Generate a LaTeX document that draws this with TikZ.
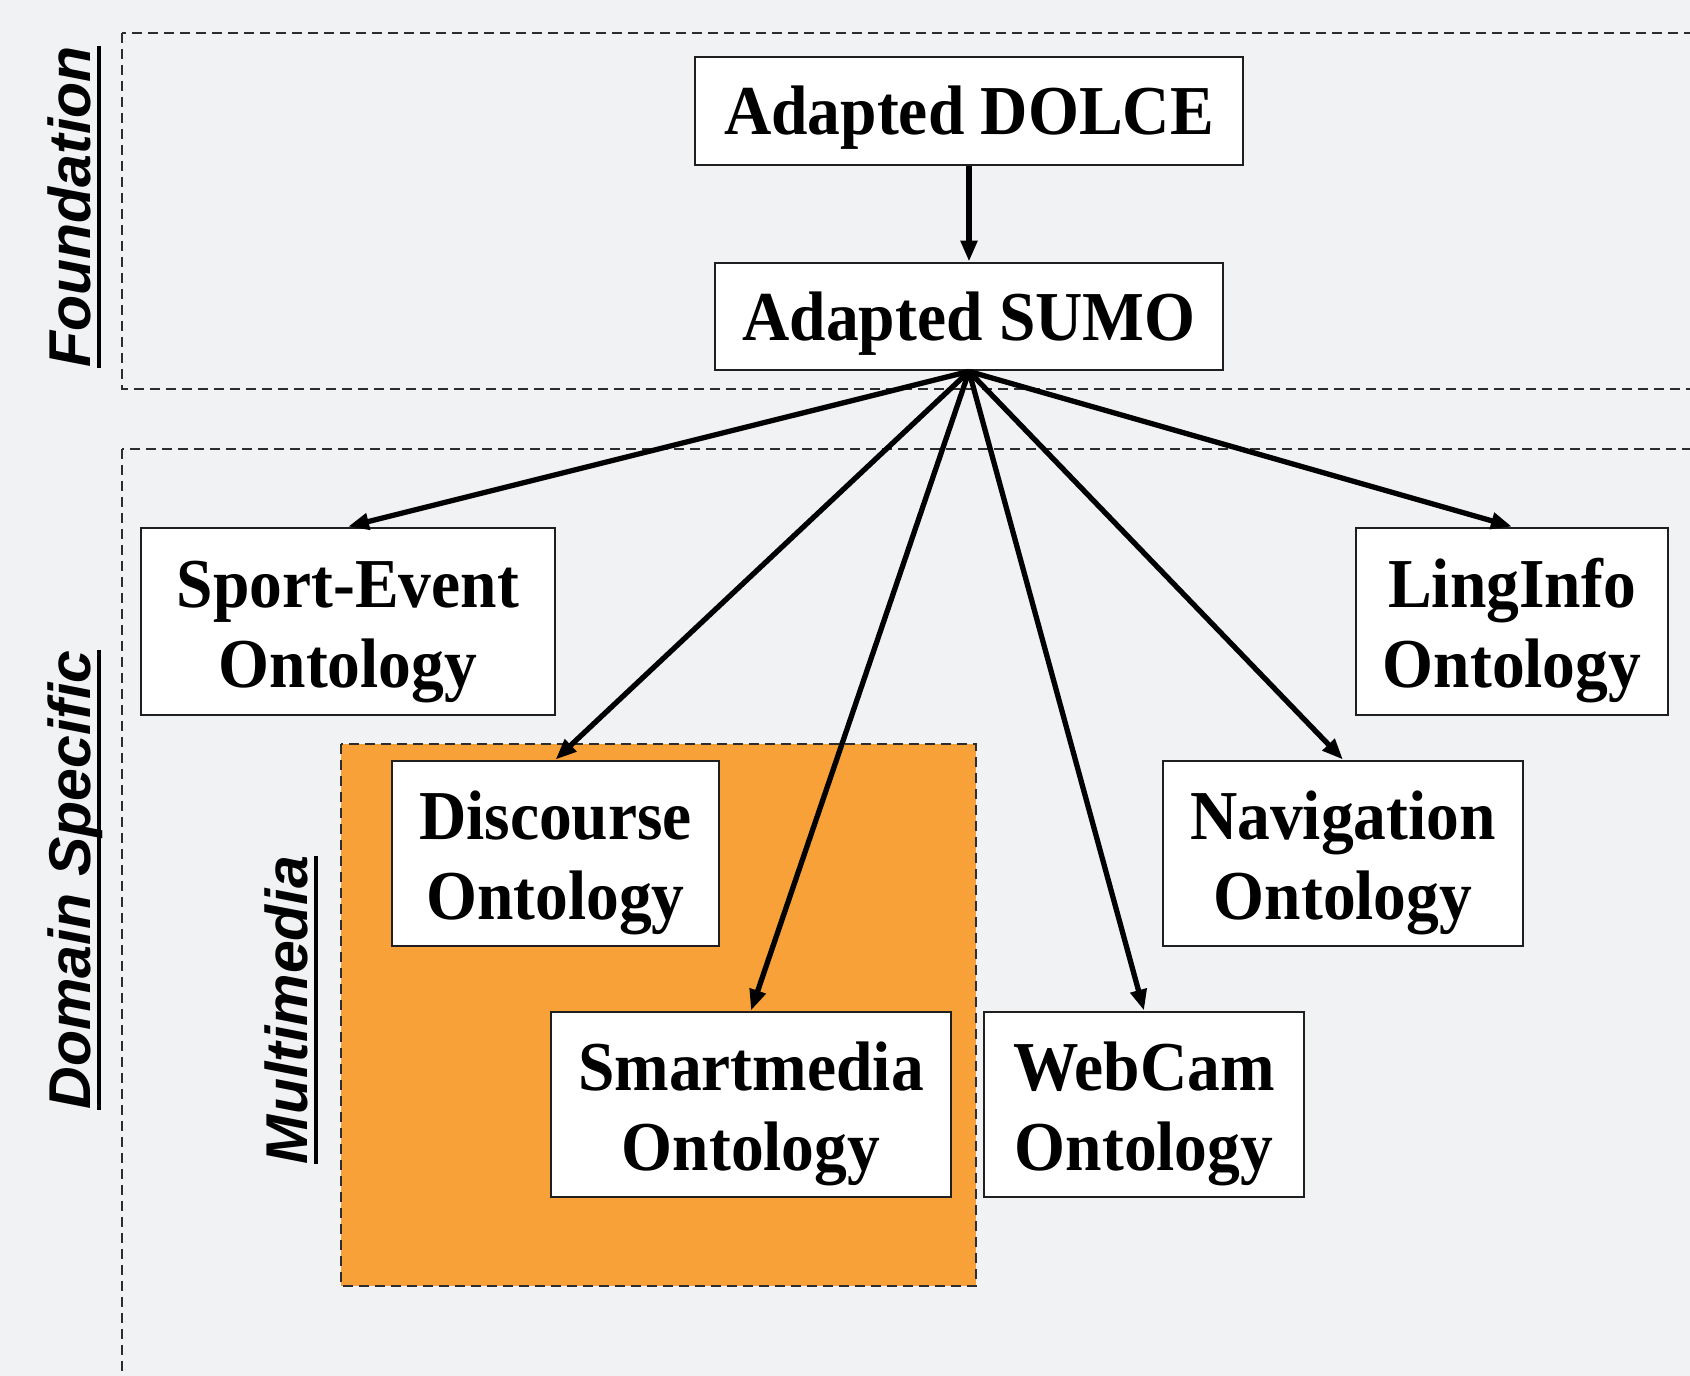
\documentclass[tikz,border=0pt]{standalone}
\usepackage{fontspec}
\usepackage{graphicx}
\setmainfont{Liberation Serif}
\newfontfamily\labfont{Liberation Sans}
\usetikzlibrary{arrows.meta}
\definecolor{bgc}{RGB}{241,242,244}
\definecolor{orng}{RGB}{247,161,56}
\definecolor{dashc}{RGB}{45,45,45}
% two-line box text, stretched vertically like the reference
\newcommand\twoline[2]{\scalebox{1}[1.07]{\begin{tabular}{@{}c@{}}\rule{0pt}{71.5pt}#1\\#2\end{tabular}}}
\newcommand\oneline[1]{\scalebox{1}[1.07]{\begin{tabular}{@{}c@{}}\rule{0pt}{67.3pt}#1\end{tabular}}}
\tikzset{
  box/.style={draw=black!88, line width=2.8pt, fill=white, inner sep=0pt, align=center,
              font=\fontsize{65.5pt}{75pt}\selectfont\bfseries},
  region/.style={draw=dashc, line width=2.6pt, dash pattern=on 10pt off 6pt},
  conn/.style={line width=5.3pt, -{Triangle[length=21pt,width=16pt]}},
  sidelab/.style={rotate=90, anchor=base, inner sep=0pt,
                  font=\labfont\fontsize{59pt}{59pt}\selectfont\bfseries\itshape},
  uline/.style={line width=4pt}
}
\begin{document}
\begin{tikzpicture}[x=1pt,y=-1pt]
\useasboundingbox (0,0) rectangle (1690,1376);
\fill[bgc] (0,0) rectangle (1690,1376);
\clip (0,0) rectangle (1690,1376);
% regions
\draw[region] (122,33) rectangle (1720,389);
\draw[region] (122,449) rectangle (1720,1420);
\draw[region, fill=orng] (341,744) rectangle (976,1286);
% side labels
\node[sidelab] (lf) at (90,207) {Foundation};
\draw[uline] ([xshift=9pt]lf.base west) -- ([xshift=9pt]lf.base east);
\node[sidelab] (ld) at (90,880) {Domain Specific};
\draw[uline] ([xshift=9pt]ld.base west) -- ([xshift=9pt]ld.base east);
\node[sidelab] (lm) at (307,1010) {Multimedia};
\draw[uline] ([xshift=9pt]lm.base west) -- ([xshift=9pt]lm.base east);
% boxes
\node[box, minimum width=548pt, minimum height=108pt] (dolce) at (969,111) {\oneline{Adapted DOLCE}};
\node[box, minimum width=508pt, minimum height=107pt] (sumo) at (969,316.5) {\oneline{Adapted SUMO}};
\node[box, minimum width=414pt, minimum height=187pt] (sport) at (348,621.5) {\twoline{Sport-Event}{Ontology}};
\node[box, minimum width=312pt, minimum height=187pt] (ling) at (1512,621.5) {\twoline{LingInfo}{Ontology}};
\node[box, minimum width=327pt, minimum height=185pt] (disc) at (555.5,853.5) {\twoline{Discourse}{Ontology}};
\node[box, minimum width=360pt, minimum height=185pt] (nav) at (1343,853.5) {\twoline{Navigation}{Ontology}};
\node[box, minimum width=400pt, minimum height=185pt] (smart) at (751,1104.5) {\twoline{Smartmedia}{Ontology}};
\node[box, minimum width=320pt, minimum height=185pt] (web) at (1144,1104.5) {\twoline{WebCam}{Ontology}};
% connectors
\draw[conn] (dolce.south) -- (sumo.north);
\draw[conn] (sumo.south) -- (sport.north);
\draw[conn] (sumo.south) -- (disc.north);
\draw[conn] (sumo.south) -- (smart.north);
\draw[conn] (sumo.south) -- (web.north);
\draw[conn] (sumo.south) -- (nav.north);
\draw[conn] (sumo.south) -- (ling.north);
\end{tikzpicture}
\end{document}
